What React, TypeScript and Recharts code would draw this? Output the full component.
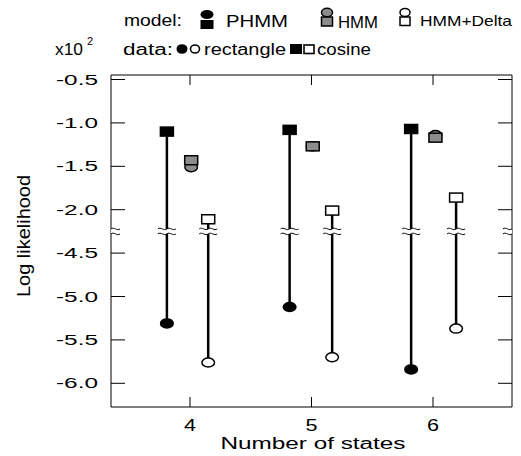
import React from "react";
import { ScatterChart, Scatter, XAxis, YAxis } from "recharts";

// x10^2 log likelihood
const states = [4, 5, 6];
const phmmX = [3.81, 4.82, 5.82];
const hmmX = [4.01, 5.01, 6.02];
const deltaX = [4.15, 5.17, 6.19];

const phmmCosine = [-1.1, -1.08, -1.07];
const phmmRect = [-5.31, -5.12, -5.84];
const hmmCosine = [-1.43, -1.27, -1.17];
const hmmRect = [-1.51, -1.27, -1.14];
const deltaCosine = [-2.11, -2.01, -1.86];
const deltaRect = [-5.76, -5.7, -5.37];

const yTicks = [-0.5, -1.0, -1.5, -2.0, -4.5, -5.0, -5.5, -6.0];

// broken axis: lower segment (-4.5..-6.0) is pulled up by 2.0
const GAP = 2.0;
const BREAK = -2.25;
const toAxis = (v: number) => (v < BREAK - GAP ? v + GAP : v);
const xDomain = [3.35, 6.65];

const FONT = "'Liberation Sans', Arial, Helvetica, sans-serif";
const GRAY = "#8c8c8c";

const pts = (xs: number[], ys: number[]) => xs.map((x, i) => ({ x, y: toAxis(ys[i]) }));

const square = (fill: string) => (p: any) => (
  <rect x={p.cx - 6.5} y={p.cy - 4.5} width={13} height={9} fill={fill} stroke="#000" strokeWidth={1.5} />
);
const circle = (fill: string) => (p: any) => (
  <ellipse cx={p.cx} cy={p.cy} rx={6.3} ry={4.5} fill={fill} stroke="#000" strokeWidth={1.5} />
);
const noShape = () => <g />;

const BreakMark = (p: any) => {
  const { cx, cy } = p;
  const wave = (yy: number) => `M${cx - 9},${yy} c3,-2.5 6,2.5 9,0 c3,-2.5 6,2.5 9,0`;
  return (
    <g>
      <rect x={cx - 9} y={cy - 2.5} width={18} height={5} fill="#fff" />
      <path d={wave(cy - 2.5)} stroke="#000" strokeWidth={1} fill="none" />
      <path d={wave(cy + 2.5)} stroke="#000" strokeWidth={1} fill="none" />
    </g>
  );
};

const YTick = (p: any) => {
  const v = p.payload.value;
  const label = (v < BREAK ? v - GAP : v).toFixed(1);
  return (
    <text x={p.x - 42} y={p.y + 5} textAnchor="start" fontSize={15} fontFamily={FONT} fill="#000"
      textLength={42} lengthAdjust="spacingAndGlyphs">{label}</text>
  );
};
const XTick = (p: any) => (
  <text x={p.x} y={p.y + 8} textAnchor="middle" fontSize={16} fontFamily={FONT} fill="#000"
    textLength={12} lengthAdjust="spacingAndGlyphs">{p.payload.value}</text>
);

const segments = [
  ...states.map((_, i) => [{ x: phmmX[i], y: toAxis(phmmCosine[i]) }, { x: phmmX[i], y: toAxis(phmmRect[i]) }]),
  ...states.map((_, i) => [{ x: deltaX[i], y: toAxis(deltaCosine[i]) }, { x: deltaX[i], y: toAxis(deltaRect[i]) }]),
];
const breaks = [xDomain[0], ...phmmX, ...deltaX, xDomain[1]].map((x) => ({ x, y: BREAK }));

const T = (props: any) => (
  <text fontFamily={FONT} fill="#000" lengthAdjust="spacingAndGlyphs" {...props} />
);

const Legend = () => (
  <svg width={521} height={456} style={{ position: "absolute", left: 0, top: 0, pointerEvents: "none" }}>
    <T x={124} y={26} fontSize={16} textLength={58}>model:</T>
    <ellipse cx={207} cy={14.5} rx={6.5} ry={4.5} fill="#000" />
    <rect x={200.5} y={20} width={13} height={9} fill="#000" />
    <T x={226} y={27} fontSize={16} textLength={62}>PHMM</T>
    <ellipse cx={327} cy={12.5} rx={5.5} ry={4.2} fill={GRAY} stroke="#000" strokeWidth={1.5} />
    <rect x={321.5} y={17} width={11} height={9} fill={GRAY} stroke="#000" strokeWidth={1.5} />
    <T x={338} y={28} fontSize={16} textLength={40}>HMM</T>
    <ellipse cx={405} cy={12.5} rx={5} ry={4} fill="#fff" stroke="#000" strokeWidth={1.5} />
    <rect x={400} y={17} width={10} height={8.5} fill="#fff" stroke="#000" strokeWidth={1.5} />
    <T x={420} y={26} fontSize={15} textLength={92}>HMM+Delta</T>

    <T x={55} y={55} fontSize={16} textLength={28}>x10</T>
    <T x={87} y={45} fontSize={11}>2</T>
    <T x={123} y={55} fontSize={16} textLength={50}>data:</T>
    <ellipse cx={182} cy={49} rx={5.5} ry={4.8} fill="#000" />
    <ellipse cx={195} cy={49} rx={4.5} ry={4} fill="#fff" stroke="#000" strokeWidth={1.6} />
    <T x={204} y={55} fontSize={16} textLength={82}>rectangle</T>
    <rect x={290} y={44} width={12} height={10} fill="#000" />
    <rect x={304} y={45} width={10} height={8.5} fill="#fff" stroke="#000" strokeWidth={1.6} />
    <T x={317} y={55} fontSize={16} textLength={54}>cosine</T>

    <T x={0} y={0} fontSize={18} textAnchor="middle" textLength={122} transform="translate(30,236) rotate(-90)">
      Log likelihood
    </T>
    <T x={313} y={449} fontSize={16} textAnchor="middle" textLength={185}>Number of states</T>
  </svg>
);

export default function App() {
  return (
    <div style={{ position: "absolute", left: 0, top: 0, width: 521, height: 456, background: "#fff" }}>
      <ScatterChart width={521} height={456} margin={{ top: 74, right: 8, bottom: 0, left: 0 }}>
        <XAxis xAxisId="b" type="number" dataKey="x" domain={xDomain} ticks={states} allowDataOverflow
          orientation="bottom" height={49} tickSize={-10} tickMargin={26} interval={0}
          axisLine={{ stroke: "#000" }} tickLine={{ stroke: "#000" }} tick={XTick} />
        <XAxis xAxisId="t" type="number" dataKey="x" domain={xDomain} ticks={states} allowDataOverflow
          orientation="top" height={1} tickSize={-10} interval={0}
          axisLine={{ stroke: "#000" }} tickLine={{ stroke: "#000" }} tick={noShape} />
        <YAxis yAxisId="l" type="number" dataKey="y" domain={[-4.273, -0.448]} ticks={yTicks.map(toAxis)}
          allowDataOverflow width={111} tickSize={-14} tickMargin={27} interval={0}
          axisLine={{ stroke: "#000" }} tickLine={{ stroke: "#000" }} tick={YTick} />
        <YAxis yAxisId="r" orientation="right" type="number" dataKey="y" domain={[-4.273, -0.448]}
          ticks={yTicks.map(toAxis)} allowDataOverflow width={1} tickSize={-14} interval={0}
          axisLine={{ stroke: "#000" }} tickLine={{ stroke: "#000" }} tick={noShape} />

        {segments.map((seg, i) => (
          <Scatter key={"seg" + i} xAxisId="b" yAxisId="l" data={seg} shape={noShape}
            line={{ stroke: "#000", strokeWidth: 2.5 }} isAnimationActive={false} />
        ))}
        <Scatter xAxisId="b" yAxisId="l" data={breaks} shape={BreakMark} isAnimationActive={false} />

        <Scatter xAxisId="b" yAxisId="l" data={pts(phmmX, phmmCosine)} shape={square("#000")} isAnimationActive={false} />
        <Scatter xAxisId="b" yAxisId="l" data={pts(phmmX, phmmRect)} shape={circle("#000")} isAnimationActive={false} />
        <Scatter xAxisId="b" yAxisId="l" data={pts(hmmX, hmmRect)} shape={circle(GRAY)} isAnimationActive={false} />
        <Scatter xAxisId="b" yAxisId="l" data={pts(hmmX, hmmCosine)} shape={square(GRAY)} isAnimationActive={false} />
        <Scatter xAxisId="b" yAxisId="l" data={pts(deltaX, deltaCosine)} shape={square("#fff")} isAnimationActive={false} />
        <Scatter xAxisId="b" yAxisId="l" data={pts(deltaX, deltaRect)} shape={circle("#fff")} isAnimationActive={false} />
      </ScatterChart>
      <Legend />
    </div>
  );
}
